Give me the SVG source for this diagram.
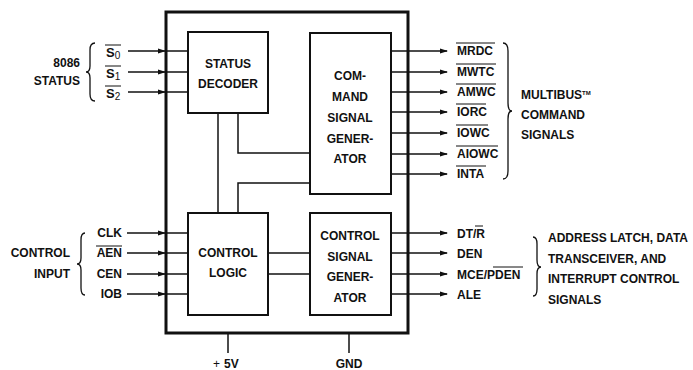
<svg xmlns="http://www.w3.org/2000/svg" width="693" height="370" viewBox="0 0 693 370">
<style>
text{font-family:"Liberation Sans",Arial,sans-serif;font-weight:bold;font-size:12px;fill:#111}
.c{text-anchor:middle}
.r{text-anchor:end}
.box{fill:#fff;stroke:#111;stroke-width:2}
.w{stroke:#111;stroke-width:1.5;fill:none}
.ar{stroke:#111;stroke-width:1.5;fill:none;marker-end:url(#ah)}
.ov{stroke:#111;stroke-width:1}
.br{stroke:#111;stroke-width:1.3;fill:none}
.sub{font-size:10px;font-weight:normal}
</style>
<defs>
<marker id="ah" markerWidth="8" markerHeight="6" refX="7" refY="3" orient="auto" markerUnits="userSpaceOnUse">
<path d="M0,0.5 L8,3 L0,5.5 Z" fill="#111"/>
</marker>
</defs>
<rect width="693" height="370" fill="#fff"/>

<g id="chip">
<rect x="166" y="12" width="242" height="321" fill="none" stroke="#111" stroke-width="3"/>
</g>

<g id="connectors">
<line class="ar" x1="128" y1="51" x2="165" y2="51"/>
<line class="ar" x1="128" y1="72" x2="165" y2="72"/>
<line class="ar" x1="128" y1="92" x2="165" y2="92"/>
<line class="w" x1="166" y1="51" x2="188" y2="51"/>
<line class="w" x1="166" y1="72" x2="188" y2="72"/>
<line class="w" x1="166" y1="92" x2="188" y2="92"/>
<line class="ar" x1="127" y1="233" x2="165" y2="233"/>
<line class="ar" x1="127" y1="253" x2="165" y2="253"/>
<line class="ar" x1="127" y1="274" x2="165" y2="274"/>
<line class="ar" x1="127" y1="294" x2="165" y2="294"/>
<line class="w" x1="166" y1="233" x2="188" y2="233"/>
<line class="w" x1="166" y1="253" x2="188" y2="253"/>
<line class="w" x1="166" y1="274" x2="188" y2="274"/>
<line class="w" x1="166" y1="294" x2="188" y2="294"/>
<line class="w" x1="218" y1="113" x2="218" y2="213"/>
<polyline class="w" points="238,113 238,153 310,153"/>
<polyline class="w" points="238,213 238,183 310,183"/>
<line class="w" x1="268" y1="253" x2="310" y2="253"/>
<line class="w" x1="268" y1="274" x2="310" y2="274"/>
<line class="ar" x1="391" y1="51" x2="447" y2="51"/>
<line class="ar" x1="391" y1="72" x2="447" y2="72"/>
<line class="ar" x1="391" y1="92" x2="447" y2="92"/>
<line class="ar" x1="391" y1="112" x2="447" y2="112"/>
<line class="ar" x1="391" y1="133" x2="447" y2="133"/>
<line class="ar" x1="391" y1="154" x2="447" y2="154"/>
<line class="ar" x1="391" y1="174" x2="447" y2="174"/>
<line class="ar" x1="391" y1="233" x2="447" y2="233"/>
<line class="ar" x1="391" y1="253" x2="447" y2="253"/>
<line class="ar" x1="391" y1="274" x2="447" y2="274"/>
<line class="ar" x1="391" y1="294" x2="447" y2="294"/>
<line class="w" x1="228" y1="333" x2="228" y2="353"/>
<line class="w" x1="349" y1="333" x2="349" y2="353"/>
</g>

<g id="status-decoder">
<rect class="box" x="188" y="32" width="80" height="81"/>
<text class="c" x="228" y="68">STATUS</text>
<text class="c" x="228" y="88">DECODER</text>
</g>

<g id="command-signal-generator">
<rect class="box" x="310" y="33" width="81" height="161"/>
<text class="c" x="350" y="80">COM-</text>
<text class="c" x="350" y="101">MAND</text>
<text class="c" x="350" y="122">SIGNAL</text>
<text class="c" x="350" y="143">GENER-</text>
<text class="c" x="350" y="163">ATOR</text>
</g>

<g id="control-logic">
<rect class="box" x="188" y="213" width="80" height="102"/>
<text class="c" x="228" y="257">CONTROL</text>
<text class="c" x="228" y="277">LOGIC</text>
</g>

<g id="control-signal-generator">
<rect class="box" x="310" y="213" width="81" height="102"/>
<text class="c" x="350" y="240">CONTROL</text>
<text class="c" x="350" y="261">SIGNAL</text>
<text class="c" x="350" y="281">GENER-</text>
<text class="c" x="350" y="302">ATOR</text>
</g>

<g id="status-inputs">
<text class="r" x="80" y="67">8086</text>
<text class="r" x="80" y="85">STATUS</text>
<path class="br" d="M95,43 Q90,43 90,50 L90,66 Q90,72 86,72 Q90,72 90,78 L90,94 Q90,101 95,101"/>
<text x="106" y="57" style="font-size:13px">S<tspan class="sub" dy="2">0</tspan></text>
<text x="106" y="78" style="font-size:13px">S<tspan class="sub" dy="2">1</tspan></text>
<text x="106" y="98" style="font-size:13px">S<tspan class="sub" dy="2">2</tspan></text>
<line class="ov" x1="105" y1="45" x2="121" y2="45"/>
<line class="ov" x1="105" y1="66" x2="121" y2="66"/>
<line class="ov" x1="105" y1="86" x2="121" y2="86"/>
</g>

<g id="control-inputs">
<text class="r" x="70" y="257">CONTROL</text>
<text class="r" x="70" y="278">INPUT</text>
<path class="br" d="M85,233 Q81,233 81,240 L81,258 Q81,264 77,264 Q81,264 81,270 L81,288 Q81,295 85,295"/>
<text class="r" x="122" y="237">CLK</text>
<text class="r" x="122" y="257">AEN</text>
<text class="r" x="122" y="278">CEN</text>
<text class="r" x="122" y="298">IOB</text>
<line class="ov" x1="96" y1="246" x2="122" y2="246"/>
</g>

<g id="command-outputs">
<text x="457" y="55">MRDC</text>
<text x="457" y="76">MWTC</text>
<text x="457" y="96">AMWC</text>
<text x="457" y="116">IORC</text>
<text x="457" y="137">IOWC</text>
<text x="457" y="158">AIOWC</text>
<text x="457" y="178">INTA</text>
<line class="ov" x1="456" y1="43" x2="495" y2="43"/>
<line class="ov" x1="456" y1="64" x2="496" y2="64"/>
<line class="ov" x1="456" y1="84" x2="496" y2="84"/>
<line class="ov" x1="456" y1="104" x2="486" y2="104"/>
<line class="ov" x1="456" y1="125" x2="488" y2="125"/>
<line class="ov" x1="456" y1="146" x2="498" y2="146"/>
<line class="ov" x1="456" y1="166" x2="486" y2="166"/>
<path class="br" d="M503,43 Q508,43 508,51 L508,103 Q508,111 512,111 Q508,111 508,119 L508,171 Q508,179 503,179"/>
<text x="521" y="99">MULTIBUS<tspan style="font-size:6px" dy="-4">TM</tspan></text>
<text x="521" y="119">COMMAND</text>
<text x="521" y="139">SIGNALS</text>
</g>

<g id="control-outputs">
<text x="457" y="238">DT/R</text>
<text x="457" y="258">DEN</text>
<text x="457" y="279">MCE/PDEN</text>
<text x="457" y="299">ALE</text>
<line class="ov" x1="475" y1="226" x2="483" y2="226"/>
<line class="ov" x1="493" y1="267" x2="523" y2="267"/>
<path class="br" d="M533,237 Q537,237 537,244 L537,260 Q537,267 541,267 Q537,267 537,274 L537,289 Q537,296 533,296"/>
<text x="548" y="242">ADDRESS LATCH, DATA</text>
<text x="548" y="263">TRANSCEIVER, AND</text>
<text x="548" y="283">INTERRUPT CONTROL</text>
<text x="548" y="304">SIGNALS</text>
</g>

<g id="power">
<text x="213" y="368" style="font-weight:normal">+</text>
<text x="224" y="368">5V</text>
<text class="c" x="349" y="368">GND</text>
</g>
</svg>
